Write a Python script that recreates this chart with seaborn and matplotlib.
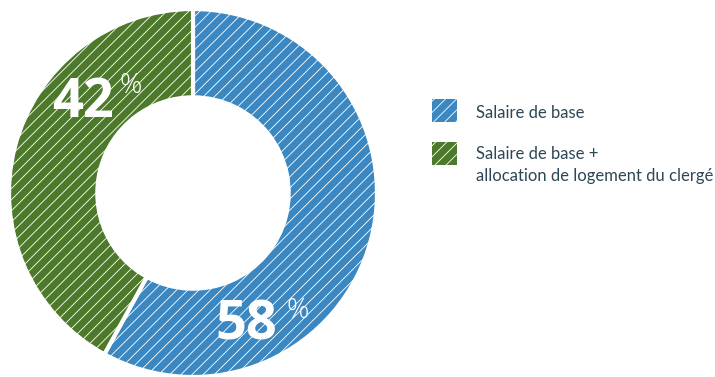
import matplotlib
matplotlib.use("Agg")
import matplotlib.pyplot as plt
from matplotlib.patches import Rectangle
import seaborn as sns

categories = ["Salaire de base", "Salaire de base +\nallocation de logement du clergé"]
shares = [58, 42]
colors = ["#3a87c1", "#4d7a2a"]
value_xy = [(0.29, -0.72), (-0.60, 0.49)]
percent_xy = [(0.57, -0.64), (-0.34, 0.58)]

sns.set_theme(style="white")
plt.rcParams["font.family"] = ["Open Sans", "DejaVu Sans"]
plt.rcParams["hatch.linewidth"] = 0.6

W, H = 715, 377
fig = plt.figure(figsize=(W / 100, H / 100), dpi=100)
ax = fig.add_axes([9 / W, 0 / H, 368 / W, 368 / H])

wedges, _ = ax.pie(
    shares, colors=colors, startangle=90, counterclock=False,
    radius=1.0, wedgeprops=dict(width=0.48, edgecolor="white", linewidth=3),
)
for w in wedges:
    w.set_hatch("///")
ax.set_xlim(-1.0, 1.0)
ax.set_ylim(-1.0, 1.0)
ax.set_aspect("equal")
ax.axis("off")

# value labels with a small raised percent sign
for val, (x, y), (px, py) in zip(shares, value_xy, percent_xy):
    ax.text(x, y, f"{val}", color="white", fontsize=39, fontweight="bold",
            ha="center", va="center")
    ax.text(px, py, "%", color="white", fontsize=20, fontweight="light",
            ha="center", va="center")

# legend: hatched swatches, label lines set on fixed baselines
sw_x, sw_w, sw_h = 432, 25, 23
sw_tops = [99, 142]
first_baselines = [118, 159]
line_gap = 22
for c, label, top, base in zip(colors, categories, sw_tops, first_baselines):
    fig.patches.append(Rectangle(
        (sw_x / W, 1 - (top + sw_h) / H), sw_w / W, sw_h / H,
        transform=fig.transFigure, facecolor=c, edgecolor="white",
        linewidth=0, hatch="///"))
    for i, line in enumerate(label.split("\n")):
        fig.text(476 / W, 1 - (base + i * line_gap) / H, line,
                 fontsize=12, family=["Lato", "DejaVu Sans"],
                 color="#2d4756", ha="left", va="baseline")

fig.savefig("out.png", dpi=100)
